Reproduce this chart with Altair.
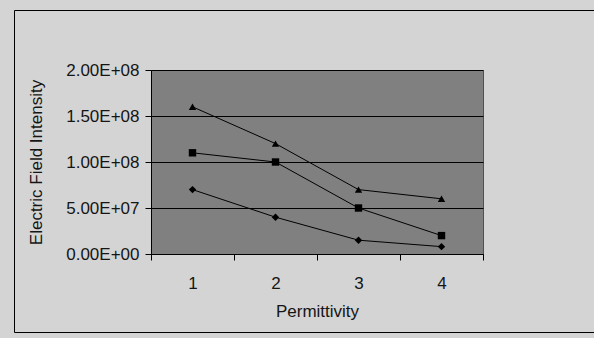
import altair as alt
import pandas as pd

# Data series
permittivity = [1, 2, 3, 4]
diamond_series = [7.0e7, 4.0e7, 1.5e7, 8.0e6]
square_series = [1.1e8, 1.0e8, 5.0e7, 2.0e7]
triangle_series = [1.6e8, 1.2e8, 7.0e7, 6.0e7]
series_names = ["Series A", "Series B", "Series C"]
series_shapes = ["diamond", "square", "triangle-up"]
y_tick_values = [0, 5e7, 1e8, 1.5e8, 2e8]
y_tick_labels = ["0.00E+00", "5.00E+07", "1.00E+08", "1.50E+08", "2.00E+08"]

rows = []
for name, vals in zip(series_names, [diamond_series, square_series, triangle_series]):
    for p, v in zip(permittivity, vals):
        rows.append({"series": name, "permittivity": p, "value": v})
df = pd.DataFrame(rows)

FONT = "Liberation Sans"
label_expr = "[" + ",".join(f"'{s}'" for s in y_tick_labels) + "][round(datum.value/5e7)]"

x_enc = alt.X(
    "permittivity:O",
    scale=alt.Scale(type="band", paddingInner=0, paddingOuter=0),
    axis=alt.Axis(
        title="Permittivity", labelAngle=0, tickBand="extent",
        domainColor="black", tickColor="black", tickSize=6,
        labelPadding=15, titlePadding=12, grid=False,
    ),
)
y_enc = alt.Y(
    "value:Q",
    scale=alt.Scale(domain=[0, 2e8], nice=False),
    axis=alt.Axis(
        title="Electric Field Intensity", values=y_tick_values,
        labelExpr=label_expr, grid=True, gridColor="black", gridWidth=1,
        domainColor="black", tickColor="black", tickSize=6,
        labelPadding=6, titlePadding=20,
    ),
)

base = alt.Chart(df)
lines = base.mark_line(color="black", strokeWidth=1).encode(x=x_enc, y=y_enc, detail="series:N")
points = base.mark_point(filled=True, color="black", opacity=1, size=55).encode(
    x=x_enc, y=y_enc,
    shape=alt.Shape("series:N", scale=alt.Scale(domain=series_names, range=series_shapes), legend=None),
)

# Outer chart-area frame: top, left and bottom edges (open on the right)
frame_src = alt.Data(values=[{}])
frame_top = alt.Chart(frame_src).mark_rule(color="black", strokeWidth=1).encode(
    x=alt.value(-136.5), x2=alt.value(460), y=alt.value(-59.5)
)
frame_bottom = alt.Chart(frame_src).mark_rule(color="black", strokeWidth=1).encode(
    x=alt.value(-136.5), x2=alt.value(460), y=alt.value(262.5)
)
frame_left = alt.Chart(frame_src).mark_rule(color="black", strokeWidth=1).encode(
    x=alt.value(-136.5), y=alt.value(-59.5), y2=alt.value(262.5)
)

chart = alt.layer(frame_top, frame_bottom, frame_left, lines, points).properties(
    width=332, height=184,
    autosize=alt.AutoSizeParams(type="none"),
    padding={"left": 151, "top": 70, "right": 111, "bottom": 84},
    background="#d4d4d4",
).configure_view(
    fill="#808080", stroke="#505050"
).configure_axis(
    labelFont=FONT, titleFont=FONT, labelFontSize=17, titleFontSize=17,
    labelColor="#151515", titleColor="#151515", titleFontWeight="normal",
)

chart.save("out.html", embed_options={"renderer": "svg", "actions": False})
